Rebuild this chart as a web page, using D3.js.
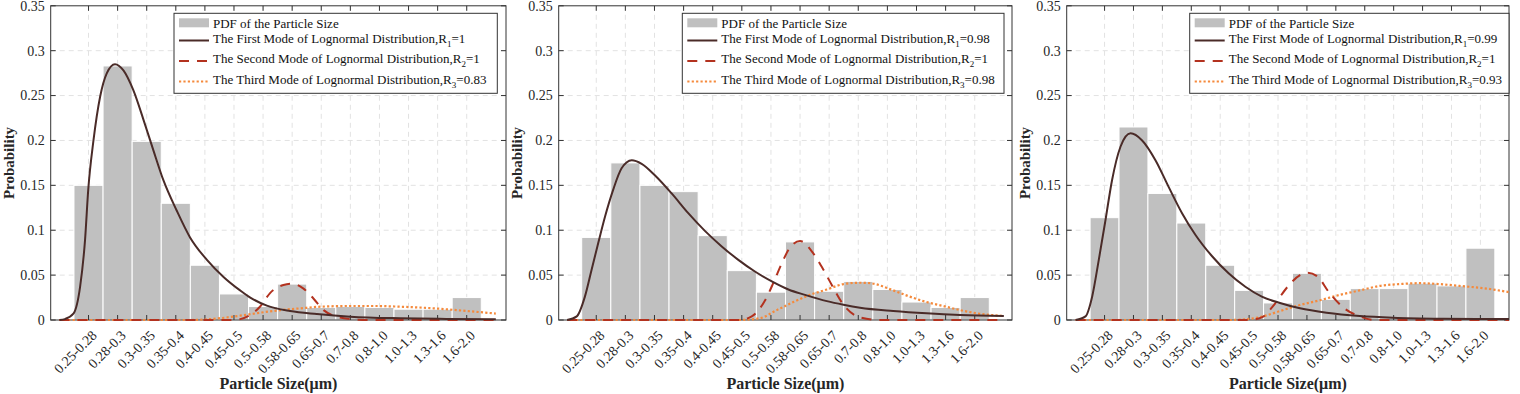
<!DOCTYPE html>
<html>
<head>
<meta charset="utf-8">
<script src="https://cdnjs.cloudflare.com/ajax/libs/d3/7.8.5/d3.min.js"></script>
<title>Particle Size PDF</title>
<style>
  body { margin: 0; background: #fff; }
  text { font-family: "Liberation Serif", "Times New Roman", Times, "DejaVu Serif", serif; }
</style>
</head>
<body>
<script>
// categories & ticks
const categories = ["0.25-0.28", "0.28-0.3", "0.3-0.35", "0.35-0.4", "0.4-0.45", "0.45-0.5", "0.5-0.58",
                    "0.58-0.65", "0.65-0.7", "0.7-0.8", "0.8-1.0", "1.0-1.3", "1.3-1.6", "1.6-2.0"];
const yTicks = [0, 0.05, 0.1, 0.15, 0.2, 0.25, 0.3, 0.35];
const yTickLabels = ["0", "0.05", "0.1", "0.15", "0.2", "0.25", "0.3", "0.35"];
const legendNames = ["PDF of the Particle Size",
                     "The First Mode of Lognormal Distribution,R",
                     "The Second Mode of Lognormal Distribution,R",
                     "The Third Mode of Lognormal Distribution,R"];

// bar heights (probability per size class)
const pdfA = [0.150, 0.283, 0.199, 0.130, 0.061, 0.029, 0.015, 0.040, 0.014, 0.015, 0.014, 0.012, 0.012, 0.025];
const pdfB = [0.092, 0.175, 0.150, 0.143, 0.094, 0.055, 0.031, 0.087, 0.032, 0.043, 0.034, 0.020, 0.014, 0.025];
const pdfC = [0.114, 0.215, 0.141, 0.108, 0.061, 0.033, 0.019, 0.052, 0.023, 0.035, 0.035, 0.041, 0.038, 0.080];

// fitted curves: [class position, probability]
const modeA1 = [[0,0],[0.19,0.001],[0.48,0.007],[0.71,0.037],[0.88,0.089],[0.99,0.145],[1.17,0.200],[1.40,0.249],
  [1.63,0.275],[1.91,0.285],[2.20,0.278],[2.54,0.256],[2.89,0.223],[3.23,0.189],[3.57,0.156],[4.03,0.122],
  [4.49,0.092],[5.07,0.067],[5.64,0.048],[6.21,0.033],[6.56,0.025],[7.13,0.016],[7.93,0.010],[8.85,0.0067],
  [10.0,0.0037],[11.72,0.0019],[13.3,0.0012],[15,0.0008]];
const modeA2 = [[0,0],[6.0,0],[6.15,0.0005],[6.56,0.0056],[6.90,0.015],[7.24,0.030],[7.70,0.039],[7.99,0.0405],
  [8.39,0.035],[8.73,0.024],[9.08,0.011],[9.54,0.0037],[10.11,0.0008],[10.6,0],[15,0]];
const modeA3 = [[0,0],[4.5,0],[4.84,0.0003],[5.52,0.002],[6.21,0.0048],[6.90,0.0081],[7.59,0.011],[8.28,0.013],
  [8.97,0.0148],[10.0,0.0156],[10.8,0.0156],[11.72,0.0148],[12.86,0.013],[14.01,0.010],[15,0.0072]];

const modeB1 = [[0,0],[0.33,0.004],[0.61,0.026],[0.84,0.056],[1.07,0.086],[1.30,0.115],[1.58,0.145],[1.87,0.169],
  [2.22,0.178],[2.56,0.174],[3.02,0.161],[3.59,0.141],[4.16,0.119],[4.74,0.099],[5.31,0.082],[5.88,0.067],
  [6.45,0.054],[7.03,0.043],[7.60,0.034],[8.17,0.028],[8.92,0.021],[9.49,0.017],[10.06,0.0137],[11.2,0.010],
  [12.35,0.0074],[13.5,0.0056],[15,0.0045]];
const modeB2 = [[0,0],[5.9,0],[6.34,0.004],[6.80,0.022],[7.08,0.041],[7.37,0.063],[7.66,0.081],[8.0,0.088],
  [8.46,0.074],[8.75,0.059],[9.09,0.039],[9.49,0.017],[10.06,0.003],[10.75,0],[15,0]];
const modeB3 = [[0,0],[5.9,0],[6.62,0.002],[7.20,0.011],[7.77,0.020],[8.34,0.028],[8.92,0.034],[9.49,0.040],
  [10.06,0.0415],[10.41,0.041],[11.2,0.033],[11.77,0.026],[12.35,0.020],[12.92,0.0156],[13.5,0.011],
  [14.07,0.0074],[15,0.0045]];

const modeC1 = [[0,0],[0.34,0.004],[0.57,0.026],[0.80,0.067],[1.03,0.111],[1.26,0.156],[1.55,0.193],[1.90,0.208],
  [2.30,0.200],[2.76,0.178],[3.22,0.148],[3.68,0.119],[4.14,0.095],[4.72,0.071],[5.29,0.052],[5.87,0.037],
  [6.44,0.026],[7.07,0.019],[7.76,0.013],[8.68,0.0081],[9.83,0.0045],[10.98,0.0026],[12.71,0.0015],[15,0.0011]];
const modeC2 = [[0,0],[6.0,0],[6.44,0.003],[6.89,0.018],[7.33,0.037],[7.76,0.050],[8.03,0.0527],[8.38,0.048],
  [8.76,0.031],[9.31,0.0126],[9.83,0.004],[10.35,0],[15,0]];
const modeC3 = [[0,0],[5.3,0],[5.76,0.0005],[6.44,0.0037],[7.07,0.010],[7.76,0.0167],[8.45,0.022],[9.14,0.028],
  [9.83,0.033],[10.52,0.038],[11.21,0.040],[11.90,0.041],[12.59,0.040],[13.28,0.038],[14.21,0.035],[15,0.031]];

// goodness of fit shown in legends
const rA = ["1", "1", "0.83"];
const rB = ["0.98", "1", "0.98"];
const rC = ["0.99", "1", "0.93"];

const panels = [
  {pdf: pdfA, modes: [modeA1, modeA2, modeA3], r: rA, x0: 50.7, x1: 506, lo: -0.3, hi: 15.35, ylab: 9, legX: 174, legW: 323.3},
  {pdf: pdfB, modes: [modeB1, modeB2, modeB3], r: rB, x0: 558.7, x1: 1012, lo: -0.29, hi: 15.28, ylab: 517, legX: 682.3, legW: 321.7},
  {pdf: pdfC, modes: [modeC1, modeC2, modeC3], r: rC, x0: 1066.7, x1: 1509, lo: -0.31, hi: 14.99, ylab: 1025, legX: 1189.7, legW: 319.3}
];

const lineStyles = [
  {color: "#4a2b28", dash: null, width: 2},
  {color: "#b3321f", dash: "10,8", width: 2},
  {color: "#f58a3c", dash: "2.2,2.2", width: 2.2}
];

const serif = "'Liberation Serif', 'Times New Roman', Times, 'DejaVu Serif', serif";

const svg = d3.select("body").append("svg")
    .attr("width", 1520)
    .attr("height", 394)
    .attr("font-family", serif)
    .style("display", "block")
    .style("background", "#fff");

const yBottom = 320, yTop = 5.8;
const y = d3.scaleLinear().domain([0, 0.35]).range([yBottom, yTop]);
const axisColor = "#333";
const textColor = "#262626";

panels.forEach(function(p, pi) {
  const x = d3.scaleLinear().domain([p.lo, p.hi]).range([p.x0, p.x1]);
  const g = svg.append("g");
  const ks = d3.range(1, categories.length + 1);

  // grid
  g.selectAll(".hgrid").data(yTicks.slice(1, -1)).enter().append("line")
    .attr("x1", p.x0).attr("x2", p.x1)
    .attr("y1", d => y(d)).attr("y2", d => y(d))
    .attr("stroke", "#e2e2e2").attr("stroke-dasharray", "5,4");
  g.selectAll(".vgrid").data(ks).enter().append("line")
    .attr("x1", d => x(d)).attr("x2", d => x(d))
    .attr("y1", yTop).attr("y2", yBottom)
    .attr("stroke", "#e2e2e2").attr("stroke-dasharray", "5,4");

  // bars
  g.selectAll(".bar").data(p.pdf).enter().append("rect")
    .attr("x", (d, i) => x(i + 0.5))
    .attr("width", (d, i) => x(i + 1.5) - x(i + 0.5))
    .attr("y", d => y(d))
    .attr("height", d => yBottom - y(d))
    .attr("fill", "#c0c0c0")
    .attr("stroke", "#fff")
    .attr("stroke-width", 1);

  // box and ticks
  g.append("rect")
    .attr("x", p.x0).attr("y", yTop).attr("width", p.x1 - p.x0).attr("height", yBottom - yTop)
    .attr("fill", "none").attr("stroke", axisColor).attr("stroke-width", 1);
  yTicks.forEach(function(t) {
    g.append("line").attr("x1", p.x0).attr("x2", p.x0 + 5).attr("y1", y(t)).attr("y2", y(t)).attr("stroke", axisColor);
    g.append("line").attr("x1", p.x1).attr("x2", p.x1 - 5).attr("y1", y(t)).attr("y2", y(t)).attr("stroke", axisColor);
  });
  ks.forEach(function(k) {
    g.append("line").attr("x1", x(k)).attr("x2", x(k)).attr("y1", yBottom).attr("y2", yBottom - 5).attr("stroke", axisColor);
    g.append("line").attr("x1", x(k)).attr("x2", x(k)).attr("y1", yTop).attr("y2", yTop + 5).attr("stroke", axisColor);
  });

  // curves (drawn over the box so the zero runs keep their full width)
  const clipId = "clip" + pi;
  svg.append("clipPath").attr("id", clipId).append("rect")
    .attr("x", p.x0).attr("y", yTop).attr("width", p.x1 - p.x0).attr("height", yBottom - yTop + 3);
  const line = d3.line().x(d => x(d[0])).y(d => y(d[1])).curve(d3.curveMonotoneX);
  const curveG = g.append("g").attr("clip-path", "url(#" + clipId + ")");
  [2, 1, 0].forEach(function(m) {
    curveG.append("path")
      .attr("d", line(p.modes[m]))
      .attr("fill", "none")
      .attr("stroke", lineStyles[m].color)
      .attr("stroke-width", lineStyles[m].width)
      .attr("stroke-dasharray", lineStyles[m].dash);
  });

  // tick labels
  g.selectAll(".ylab").data(yTicks).enter().append("text")
    .attr("x", p.x0 - 6)
    .attr("y", d => y(d))
    .attr("dy", "0.35em")
    .attr("text-anchor", "end")
    .attr("font-size", 14)
    .attr("fill", textColor)
    .text((d, i) => yTickLabels[i]);

  g.selectAll(".xlab").data(categories).enter().append("text")
    .attr("transform", (d, i) => "translate(" + (x(i + 1) + 6) + "," + (yBottom + 13) + ") rotate(-45)")
    .attr("text-anchor", "end")
    .attr("dominant-baseline", "central")
    .attr("font-size", 14)
    .attr("fill", textColor)
    .text(d => d);

  // axis titles
  g.append("text")
    .attr("x", (p.x0 + p.x1) / 2).attr("y", 383).attr("dy", "0.35em")
    .attr("text-anchor", "middle").attr("font-weight", "bold").attr("font-size", 16)
    .attr("fill", textColor)
    .text("Particle Size(\u03bcm)");
  g.append("text")
    .attr("transform", "translate(" + p.ylab + "," + 163 + ") rotate(-90)")
    .attr("dy", "0.35em")
    .attr("text-anchor", "middle").attr("font-weight", "bold").attr("font-size", 15)
    .attr("fill", textColor)
    .text("Probability");

  // legend
  const lg = g.append("g");
  lg.append("rect")
    .attr("x", p.legX).attr("y", 13.3).attr("width", p.legW).attr("height", 80)
    .attr("fill", "#fff").attr("stroke", axisColor).attr("stroke-width", 1);
  const baselines = [27.5, 42.5, 63, 83.5];
  lg.append("rect")
    .attr("x", p.legX + 5).attr("y", 18.3).attr("width", 30).attr("height", 9)
    .attr("fill", "#c0c0c0");
  [0, 1, 2].forEach(function(m) {
    lg.append("line")
      .attr("x1", p.legX + 5).attr("x2", p.legX + 35)
      .attr("y1", baselines[m + 1] - 2).attr("y2", baselines[m + 1] - 2)
      .attr("stroke", lineStyles[m].color)
      .attr("stroke-width", lineStyles[m].width)
      .attr("stroke-dasharray", lineStyles[m].dash);
  });
  legendNames.forEach(function(name, i) {
    const t = lg.append("text")
      .attr("x", p.legX + 39)
      .attr("y", baselines[i])
      .attr("font-size", 13)
      .attr("fill", "#111");
    t.append("tspan").text(name);
    if (i > 0) {
      t.append("tspan").attr("font-size", 9).attr("dy", 4).text(String(i));
      t.append("tspan").attr("dy", -4).text("=" + p.r[i - 1]);
    }
  });
});
</script>
</body>
</html>
